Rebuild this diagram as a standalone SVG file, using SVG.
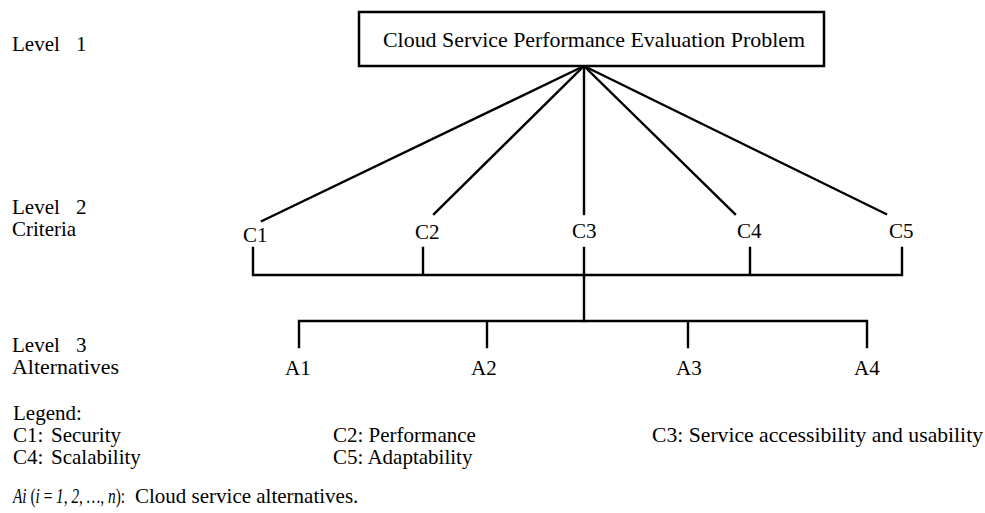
<svg xmlns="http://www.w3.org/2000/svg" width="985" height="513" viewBox="0 0 985 513">
  <style>
    text { font-family: "Liberation Serif", "DejaVu Serif", serif; font-size: 21px; fill: #000; }
    .it { font-style: italic; }
    .ln { stroke: #000; stroke-width: 2.4; fill: none; stroke-linecap: square; }
    .box { stroke: #000; stroke-width: 2.5; fill: #fff; }
  </style>
  <rect width="985" height="513" fill="#fff"/>

  <!-- Connectors -->
  <g id="connectors">
    <line class="ln" x1="584" y1="66" x2="262" y2="221"/>
    <line class="ln" x1="584" y1="66" x2="434" y2="214"/>
    <line class="ln" x1="584" y1="66" x2="584" y2="214"/>
    <line class="ln" x1="584" y1="66" x2="735" y2="214"/>
    <line class="ln" x1="584" y1="66" x2="886" y2="214"/>
    <path class="ln" d="M253 248 V275 H902 V248 M423 248 V275 M750 248 V275"/>
    <path class="ln" d="M584 248 V321"/>
    <path class="ln" d="M299 347 V321 H867 V347 M487 321 V347 M688 321 V347"/>
  </g>

  <!-- Level labels -->
  <g id="level1"><text x="12" y="51">Level<tspan x="76">1</tspan></text></g>
  <g id="level2"><text x="12" y="214">Level<tspan x="76">2</tspan></text><text x="12" y="236">Criteria</text></g>
  <g id="level3"><text x="12" y="352">Level<tspan x="76">3</tspan></text><text x="12" y="374" textLength="107" lengthAdjust="spacingAndGlyphs">Alternatives</text></g>

  <!-- Goal node -->
  <g id="goal">
    <rect class="box" x="359" y="12" width="465" height="54"/>
    <text x="383" y="47" textLength="422" lengthAdjust="spacingAndGlyphs">Cloud Service Performance Evaluation Problem</text>
  </g>

  <!-- Criteria -->
  <g id="C1"><text x="243" y="242">C1</text></g>
  <g id="C2"><text x="415" y="239">C2</text></g>
  <g id="C3"><text x="572" y="238">C3</text></g>
  <g id="C4"><text x="737" y="238">C4</text></g>
  <g id="C5"><text x="889" y="238">C5</text></g>

  <!-- Alternatives -->
  <g id="A1"><text x="285" y="375">A1</text></g>
  <g id="A2"><text x="471" y="375">A2</text></g>
  <g id="A3"><text x="676" y="375">A3</text></g>
  <g id="A4"><text x="854" y="375">A4</text></g>

  <!-- Legend -->
  <g id="legend">
    <text x="13" y="420">Legend:</text>
    <text x="13" y="442">C1:<tspan x="51">Security</tspan></text>
    <text x="13" y="464">C4:<tspan x="51">Scalability</tspan></text>
    <text x="333" y="442">C2: Performance</text>
    <text x="333" y="464">C5: Adaptability</text>
    <text x="652" y="442" textLength="331" lengthAdjust="spacingAndGlyphs">C3: Service accessibility and usability</text>
    <text x="13" y="503" textLength="112" lengthAdjust="spacingAndGlyphs"><tspan class="it">Ai</tspan> (<tspan class="it">i</tspan> = <tspan class="it">1, 2, …, n</tspan>):</text>
    <text x="135" y="503">Cloud service alternatives.</text>
  </g>
</svg>
